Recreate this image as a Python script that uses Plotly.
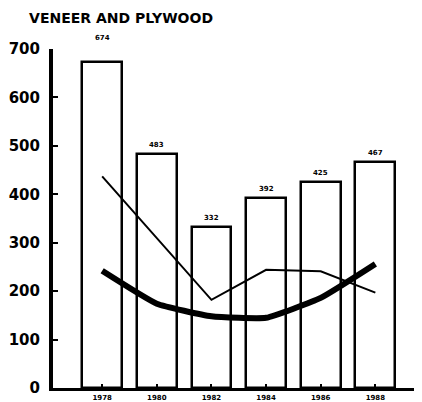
import plotly.graph_objects as go

# data
years = [1978, 1980, 1982, 1984, 1986, 1988]
bar_values = [674, 483, 332, 392, 425, 467]
bar_labels = ["674", "483", "332", "392", "425", "467"]

thin_years = [1978, 1982, 1984, 1986, 1988]
thin_values = [437, 182, 244, 241, 197]

thick_values = [242, 174, 148, 145, 186, 256]

y_ticks = [0, 100, 200, 300, 400, 500, 600, 700]

font_family = "DejaVu Sans"

fig = go.Figure()

fig.add_trace(go.Bar(
    x=years,
    y=bar_values,
    width=1.46,
    marker=dict(color="white", line=dict(color="black", width=2.5)),
    showlegend=False,
    hoverinfo="skip",
))

fig.add_trace(go.Scatter(
    x=thin_years,
    y=thin_values,
    mode="lines",
    line=dict(color="black", width=2),
    showlegend=False,
))

fig.add_trace(go.Scatter(
    x=years,
    y=thick_values,
    mode="lines",
    line=dict(color="black", width=6, shape="spline", smoothing=0.4),
    showlegend=False,
))

# value labels above the bars (first one sits higher in the original)
label_shift = [24, 9, 9, 9, 9, 9]
for yr, val, txt, sh in zip(years, bar_values, bar_labels, label_shift):
    fig.add_annotation(
        x=yr, y=val, text=txt, showarrow=False, yshift=sh,
        font=dict(family=font_family, size=7, color="black", weight="bold"),
    )

fig.update_layout(
    width=422,
    height=402,
    plot_bgcolor="white",
    paper_bgcolor="white",
    margin=dict(l=45, r=0, t=41, b=22),
    title=dict(
        text="VENEER AND PLYWOOD",
        x=0.05, xanchor="left",
        y=0.975, yanchor="middle",
        font=dict(family=font_family, size=14, color="black", weight="bold"),
    ),
    bargap=0,
)

fig.update_xaxes(
    range=[1976.2, 1990],
    tickvals=years,
    ticktext=[str(y) for y in years],
    tickfont=dict(family=font_family, size=7, color="black", weight="bold"),
    ticks="inside",
    ticklen=4,
    tickwidth=2,
    tickcolor="black",
    showline=True,
    linecolor="black",
    linewidth=3,
    showgrid=False,
    zeroline=False,
    ticklabelstandoff=1,
)

fig.update_yaxes(
    range=[0, 700],
    tickvals=y_ticks,
    tickfont=dict(family=font_family, size=15, color="black", weight="bold"),
    ticks="inside",
    ticklen=5,
    tickwidth=2,
    tickcolor="black",
    showline=True,
    linecolor="black",
    linewidth=4,
    showgrid=False,
    zeroline=False,
    ticklabelstandoff=6,
)

fig.write_html("out.html")
